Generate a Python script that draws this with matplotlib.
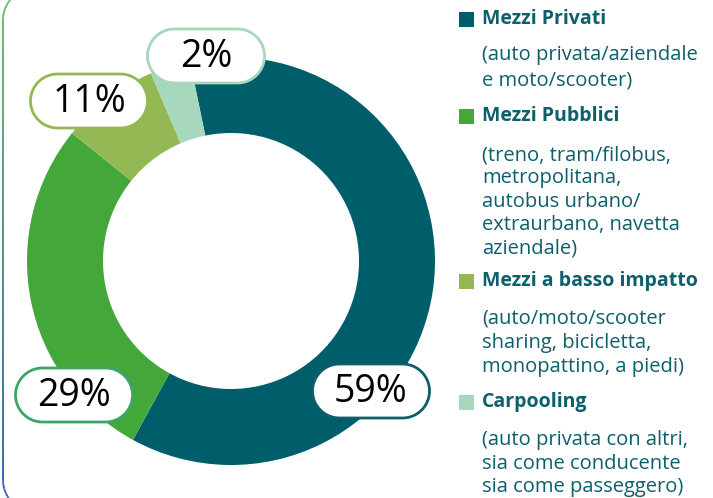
import numpy as np
import matplotlib
matplotlib.use("Agg")
import matplotlib.pyplot as plt
from matplotlib.patches import Polygon, Rectangle
from matplotlib.collections import LineCollection

# ---------------- data ----------------
categories = ["Mezzi Privati", "Mezzi Pubblici", "Mezzi a basso impatto", "Carpooling"]
descriptions = [
    "(auto privata/aziendale\ne moto/scooter)",
    "(treno, tram/filobus,\nmetropolitana,\nautobus urbano/\nextraurbano, navetta\naziendale)",
    "(auto/moto/scooter\nsharing, bicicletta,\nmonopattino, a piedi)",
    "(auto privata con altri,\nsia come conducente\nsia come passeggero)",
]
# wedge sizes as drawn in the picture (degrees share)
wedge_values = [61.2, 27.8, 7.8, 3.2]
value_labels = ["59%", "29%", "11%", "2%"]

# ---------------- style ----------------
colors = ["#005E6A", "#43A739", "#94B954", "#A7D7BC"]
box_edges = ["#0B5F6B", "#3EA56A", "#94B954", "#A7D7BC"]
text_teal = "#0D5F6B"

W, H = 713, 498
fig = plt.figure(figsize=(W / 100, H / 100), dpi=100)
fig.patch.set_facecolor("white")

# background axes in pixel coordinates
bg = fig.add_axes([0, 0, 1, 1])
bg.set_xlim(0, W)
bg.set_ylim(H, 0)
bg.axis("off")

# rounded frame partly visible on the left with green->blue gradient
R = 32
x0, ytop, ybot = 3, -12, 512
pts = []
for a in np.linspace(90, 180, 30):
    t = np.radians(a)
    pts.append((x0 + R + R * np.cos(t), ytop + R - R * np.sin(t)))
for y in np.linspace(ytop + R, ybot - R, 60):
    pts.append((x0, y))
for a in np.linspace(180, 270, 30):
    t = np.radians(a)
    pts.append((x0 + R + R * np.cos(t), ybot - R - R * np.sin(t)))
pts = np.array(pts)
segs = np.stack([pts[:-1], pts[1:]], axis=1)
c_top = np.array(matplotlib.colors.to_rgb("#5CB85C"))
c_bot = np.array(matplotlib.colors.to_rgb("#2B57A8"))
fr = np.clip(pts[:-1, 1] / H, 0, 1)
seg_cols = [tuple(c_top * (1 - f) + c_bot * f) for f in fr]
bg.add_collection(LineCollection(segs, colors=seg_cols, linewidths=1.3))

# donut
cx, cy, r_out, r_in = 231, 261, 204, 128
ax = fig.add_axes([(cx - r_out) / W, (H - cy - r_out) / H, 2 * r_out / W, 2 * r_out / H])
ax.pie(wedge_values, colors=colors, startangle=101.6, counterclock=False,
       radius=1, wedgeprops=dict(width=1 - r_in / r_out, edgecolor="none", linewidth=0))
ax.set_xlim(-1, 1)
ax.set_ylim(-1, 1)
ax.set_aspect("auto")
ax.axis("off")


def pill(xc, yc, w, h):
    r = h / 2
    out = []
    for a in np.linspace(-90, 90, 40):
        t = np.radians(a)
        out.append((xc + w / 2 - r + r * np.cos(t), yc + r * np.sin(t)))
    for a in np.linspace(90, 270, 40):
        t = np.radians(a)
        out.append((xc - w / 2 + r + r * np.cos(t), yc + r * np.sin(t)))
    return np.array(out)


# value label pills (centre x, centre y in pixels)
label_pos = [(371, 391), (74, 395), (89, 101), (206, 56)]
bw, bh = 117, 54
lab_ax = fig.add_axes([0, 0, 1, 1])
lab_ax.set_xlim(0, W)
lab_ax.set_ylim(H, 0)
lab_ax.axis("off")
for (px, py), lab, ec in zip(label_pos, value_labels, box_edges):
    lab_ax.add_patch(Polygon(pill(px, py, bw, bh), closed=True, facecolor="white",
                             edgecolor=ec, linewidth=2.0))
    lab_ax.text(px, py + 1, lab, ha="center", va="center", fontsize=27,
                family="Open Sans", color="black")

# legend
sq_x, txt_x = 459, 482
head_y = [19, 116, 281, 402]
desc_y = [55, 155, 318, 440]
desc_sp = [25, 23.3, 24.5, 23.5]
for i, (cat, desc) in enumerate(zip(categories, descriptions)):
    bg.add_patch(Rectangle((sq_x, head_y[i] - 7.5), 15, 15,
                           facecolor=colors[i], edgecolor="none"))
    bg.text(txt_x, head_y[i], cat, ha="left", va="center", fontsize=14,
            fontweight="bold", family="Open Sans", color=text_teal)
    for j, line in enumerate(desc.split("\n")):
        bg.text(txt_x, desc_y[i] + j * desc_sp[i], line, ha="left", va="center",
                fontsize=14.5, family="Open Sans", color=text_teal)

fig.savefig("out.png", dpi=100)
